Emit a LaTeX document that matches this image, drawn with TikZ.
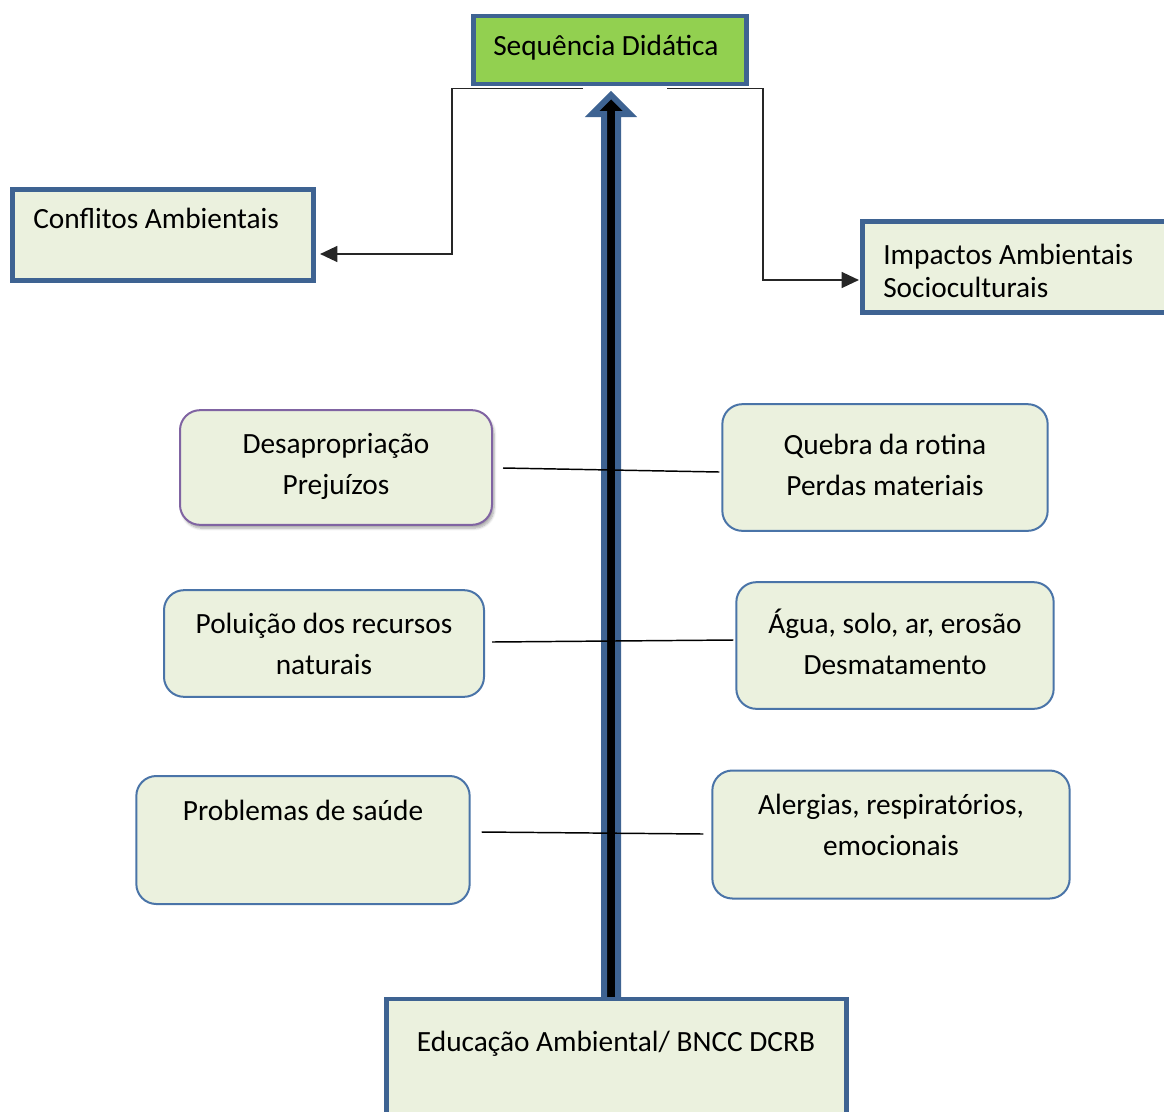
\documentclass[tikz,border=0pt]{standalone}
\usepackage{fontspec}
\setmainfont{Carlito}
\usetikzlibrary{calc,arrows.meta,shadows.blur}
\definecolor{boxblue}{RGB}{62,99,146}
\definecolor{rblue}{RGB}{74,116,168}
\definecolor{lightfill}{RGB}{235,241,222}
\definecolor{seqgreen}{RGB}{146,208,80}
\definecolor{purpleb}{RGB}{128,100,162}
\tikzset{
  thickbox/.style={draw=boxblue, line width=3.6pt, fill=lightfill, rectangle, inner sep=0pt},
  roundbox/.style={draw=rblue, line width=1.5pt, fill=lightfill, rectangle, rounded corners=15pt, inner sep=0pt},
  txt/.style={font=\fontsize{22}{26}\selectfont, inner sep=0pt, anchor=base},
  txtl/.style={txt, anchor=base west},
  elbow/.style={draw=black!85, line width=1.2pt, -{Triangle[length=13pt,width=12pt]}},
  link/.style={draw=black, line width=1.1pt},
  bigarrow/.style={draw=boxblue, line width=4.5pt, fill=black, line join=miter}
}
\begin{document}
\begin{tikzpicture}[x=0.75pt,y=-0.75pt]
\useasboundingbox (0,0) rectangle (1164,1111);

% boxes
\node[thickbox, fill=seqgreen, minimum width=205pt, minimum height=51pt] (seq) at (610,50) {};
\node[thickbox, minimum width=226pt, minimum height=68pt] (conf) at (163,235) {};
\node[thickbox, minimum width=229pt, minimum height=68pt] (imp) at (1015,267) {};
\node[roundbox, draw=purpleb, minimum width=234pt, minimum height=86pt,
      blur shadow={shadow xshift=1.5pt, shadow yshift=-2.5pt, shadow blur steps=6, shadow opacity=35}] (desap) at (336,467.5) {};
\node[roundbox, minimum width=244pt, minimum height=95pt] (quebra) at (885,467.5) {};
\node[roundbox, minimum width=240pt, minimum height=80pt] (polu) at (324,643.5) {};
\node[roundbox, minimum width=238pt, minimum height=95pt] (agua) at (895,645.5) {};
\node[roundbox, minimum width=250pt, minimum height=96pt] (prob) at (303,840) {};
\node[roundbox, minimum width=268pt, minimum height=96pt] (alerg) at (891,834.5) {};

% elbow connectors
\draw[elbow] ($(seq.south)+(-27,2)$) -- ++(-131,0) |- ($(conf.east)+(4,19)$);
\draw[elbow] ($(seq.south)+(57,2)$) -- ++(96,0) |- ($(imp.west)+(-1,13)$);

% big vertical arrow
\coordinate (abot) at (611,1000);
\path[bigarrow] ($(abot)+(-7,0)$) -- ++(0,-886) -- ++(-12,0) -- ++(19,-19) -- ++(19,19) -- ++(-12,0) -- ++(0,886) -- cycle;

% bottom box
\node[thickbox, minimum width=345pt, minimum height=96pt] (edu) at (616.5,1063) {};

% horizontal links
\draw[link] ($(desap.east)+(10,0.5)$) -- ($(quebra.west)+(-2,4.5)$);
\draw[link] ($(polu.east)+(7,-1.5)$) -- ($(agua.west)+(-2,-5.5)$);
\draw[link] ($(prob.east)+(11,-8)$) -- ($(alerg.west)+(-8,-0.5)$);

% texts
\node[txtl] (t1) at (493,55) {Sequência Didática};
\node[txtl] (t2) at (33,228) {Conflitos Ambientais};
\node[txtl] (t3) at (883,264) {Impactos Ambientais};
\node[txtl] (t4) at (883,297) {Socioculturais};
\node[txt] (t5) at (336,453) {Desapropriação};
\node[txt] (t6) at (336,494) {Prejuízos};
\node[txt] (t7) at (885,454) {Quebra da rotina};
\node[txt] (t8) at (885,495) {Perdas materiais};
\node[txt] (t9) at (324,633) {Poluição dos recursos};
\node[txt] (t10) at (324,674) {naturais};
\node[txt] (t11) at (895,633) {Água, solo, ar, erosão};
\node[txt] (t12) at (895,674) {Desmatamento};
\node[txt] (t13) at (303,820) {Problemas de saúde};
\node[txt] (t14) at (891,814) {Alergias, respiratórios,};
\node[txt] (t15) at (891,855) {emocionais};
\node[txt] (t16) at (616,1051) {Educação Ambiental/ BNCC DCRB};
\end{tikzpicture}
\end{document}
